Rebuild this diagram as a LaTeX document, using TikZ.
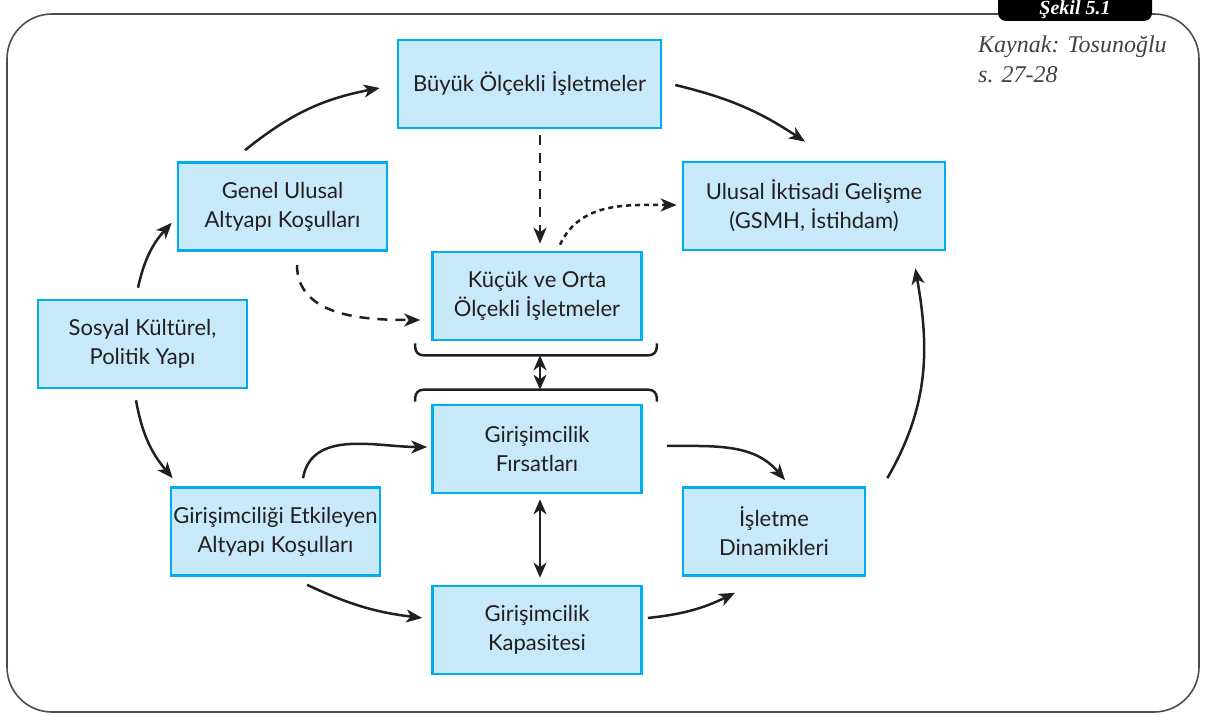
\documentclass[tikz,border=0pt]{standalone}
\usepackage{fontspec}
\setmainfont{Lato}
\newfontfamily\capfont{Liberation Serif}
\usetikzlibrary{arrows.meta,positioning,calc}
\definecolor{cCyan}{HTML}{00AEEF}
\definecolor{cCyanL}{HTML}{C8E9F9}
\definecolor{cInk}{HTML}{231F20}
\definecolor{cFrame}{HTML}{4D4D4D}

\begin{document}
\begin{tikzpicture}[x=1pt, y=1pt, font=\fontsize{22}{29}\selectfont,
    box/.style={draw=cCyan, fill=cCyanL, line width=2.6pt, text=cInk,
      align=center, inner sep=0pt, minimum width=209pt, minimum height=88pt},
    arr/.style={cInk, line width=2.5pt, -{Stealth[length=16pt,width=13pt,inset=4.5pt]}},
    dblarr/.style={cInk, line width=2.5pt,
      {Stealth[length=15pt,width=13pt,inset=4.5pt]}-{Stealth[length=15pt,width=13pt,inset=4.5pt]}},
    dasharr/.style={arr, dash pattern=on 10pt off 8pt},
    dotarr/.style={arr, dash pattern=on 5pt off 4pt},
    brace/.style={cInk, line width=2.5pt, rounded corners=8pt}]
  \useasboundingbox (0,0) rectangle (1206,715);
  % frame and caption
  \draw[cFrame, line width=1.6pt, rounded corners=45pt] (7,3) rectangle (1199,701);
  \fill[black, rounded corners=8pt] (998,694) rectangle (1152,740);
  \node[text=white, anchor=base, inner sep=0pt,
    font=\capfont\fontsize{20}{20}\selectfont\bfseries\itshape]
    (sekil) at (1075,700) {Şekil 5.1};
  \node[cInk!85, anchor=north west, align=left, inner sep=0pt,
    font=\capfont\fontsize{24}{30}\selectfont\itshape] (kaynak) at (978,679)
    {Kaynak: Tosunoğlu\\ s. 27-28};
  % boxes
  \node[box, minimum width=263pt] (buyuk) at (529.5,631) {Büyük Ölçekli İşletmeler};
  \node[box] (genel) at (282.5,508.5) {Genel Ulusal\\ Altyapı Koşulları};
  \node[box, minimum width=262pt] (ulusal) at (814,509) {Ulusal İktisadi Gelişme\\ (GSMH, İstihdam)};
  \node[box] (kucuk) at (537,419) {Küçük ve Orta\\ Ölçekli İşletmeler};
  \node[box] (sosyal) at (142.5,371) {Sosyal Kültürel,\\ Politik Yapı};
  \node[box] (firsat) at (537,266) {Girişimcilik\\ Fırsatları};
  \node[box] (etkileyen) at (275.5,183.5) {Girişimciliği Etkileyen\\ Altyapı Koşulları};
  \node[box, minimum width=182pt] (dinamik) at (774,183.5) {İşletme\\ Dinamikleri};
  \node[box] (kapasite) at (537,85) {Girişimcilik\\ Kapasitesi};
  % braces
  \draw[brace] ($(kucuk.south west)+(-16,-2)$) -- ++(0,-12)
    -- ($(kucuk.south east)+(14,-14)$) -- ++(0,12);
  \draw[brace] ($(firsat.north west)+(-16,2)$) -- ++(0,12)
    -- ($(firsat.north east)+(14,14)$) -- ++(0,-12);
  \coordinate (kucukbr) at ($(kucuk.south)+(3,-14)$);
  \coordinate (firsatbr) at ($(firsat.north)+(3,14)$);
  % connectors
  \draw[dblarr] (kucukbr) -- (firsatbr);
  \draw[dblarr, shorten <=5pt, shorten >=7pt] ([xshift=3pt]firsat.south) -- ([xshift=3pt]kapasite.north);
  \draw[arr] ($(sosyal.north)+(-4.5,11)$) to[bend left=15] ($(genel.south west)+(-5,29)$);
  \draw[arr] ($(genel.north)+(-37.5,11)$) to[bend left=14] ($(buyuk.west)+(-17,-4)$);
  \draw[arr] ($(buyuk.east)+(13,-1)$) to[bend left=10] ($(ulusal.north)+(-9,19)$);
  \draw[dasharr] ($(buyuk.south)+(10.5,-6)$) -- ($(kucuk.north)+(3,7)$);
  \draw[dotarr] ($(kucuk.north)+(23,6)$) to[out=65, in=180] ($(ulusal.west)+(-5,1)$);
  \draw[dasharr] ($(genel.south)+(14.5,-13)$) to[out=-90, in=180] ($(kucuk.west)+(-11,-24)$);
  \draw[arr] ($(sosyal.south)+(-6.5,-11)$) to[bend right=15] ($(etkileyen.north west)+(3,8)$);
  \draw[arr] ($(etkileyen.north)+(27.5,8)$) to[out=80, in=180] ($(firsat.west)+(-4,2)$);
  \draw[arr] ($(etkileyen.south)+(31.5,-8)$) to[bend right=9] ($(kapasite.west)+(-9,12)$);
  \draw[arr] ($(kapasite.east)+(5,12)$) to[bend right=10] ($(dinamik.south)+(-39,-16)$);
  \draw[arr] ($(firsat.east)+(24,3)$) to[out=0, in=130] ($(dinamik.north)+(11,6)$);
  \draw[arr] ($(dinamik.north east)+(21,8)$) to[out=60, in=-80] ($(ulusal.south east)+(-31,-17)$);
\end{tikzpicture}
\end{document}
